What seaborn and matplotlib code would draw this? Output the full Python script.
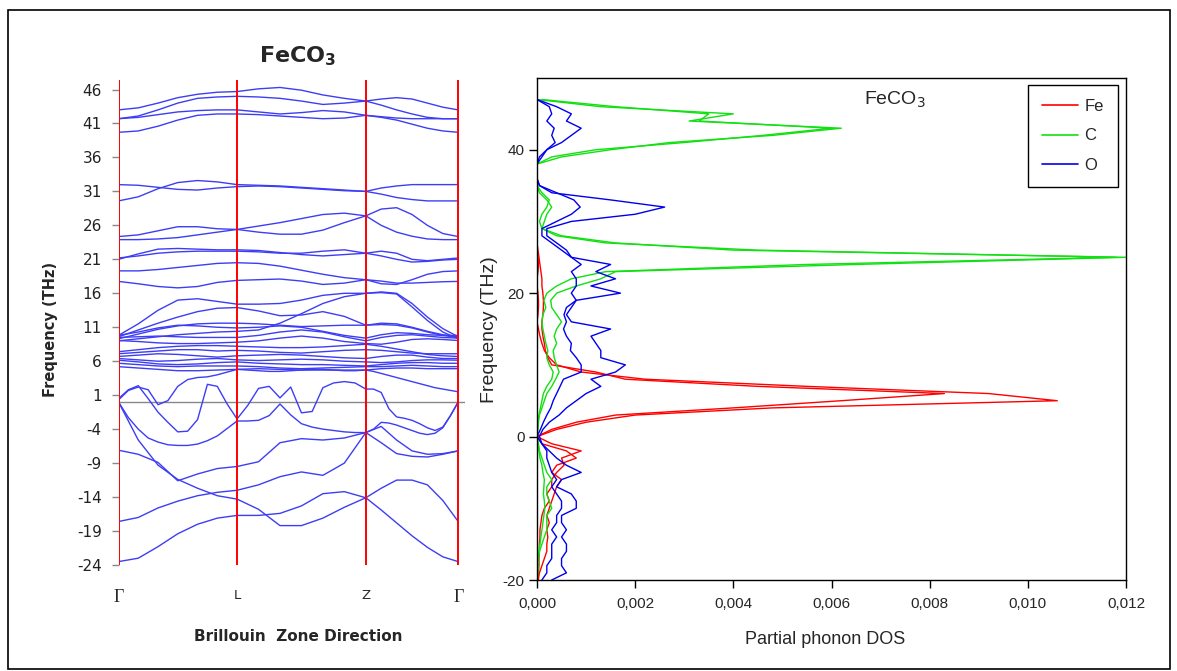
import numpy as np
import pandas as pd
import matplotlib
matplotlib.use('Agg')
import matplotlib.pyplot as plt
from matplotlib import font_manager
from matplotlib.lines import Line2D
from matplotlib.patches import Rectangle
from matplotlib.ticker import FuncFormatter
import seaborn as sns

# ---------------- data: band structure (left) ----------------
K_LABELS = ['Γ', 'L', 'Z', 'Γ']
K_TICKS = [0.0, 0.349, 0.728, 1.0]   # path distance of the high-symmetry points

# bands read on 7 points per segment (19 points along Γ-L-Z-Γ)
BANDS_COARSE = {
    'H1': [43.0, 43.3, 44.0, 44.8, 45.3, 45.6, 45.7, 46.1, 46.3, 45.9, 45.2, 44.7, 44.3, 44.6, 44.8, 44.6, 44.0, 43.4, 43.0],
    'H2': [41.7, 42.1, 43.0, 44.0, 44.7, 44.9, 45.0, 44.9, 44.7, 44.3, 43.8, 44.0, 44.3, 43.7, 43.0, 42.4, 41.9, 41.7, 41.7],
    'H3': [41.7, 41.9, 42.3, 42.7, 42.9, 43.0, 43.0, 42.7, 42.4, 42.6, 42.9, 42.7, 42.2, 42.0, 41.8, 41.7, 41.7, 41.7, 41.7],
    'H4': [39.7, 39.9, 40.6, 41.5, 42.2, 42.4, 42.4, 42.3, 42.1, 41.9, 41.7, 41.8, 42.2, 41.9, 41.5, 40.9, 40.3, 39.9, 39.7],
    'H5': [29.6, 30.2, 31.4, 32.3, 32.6, 32.4, 32.0, 31.9, 31.8, 31.6, 31.4, 31.2, 31.0, 31.5, 31.8, 32.0, 32.0, 32.0, 32.0],
    'H6': [32.0, 31.9, 31.6, 31.3, 31.2, 31.5, 31.7, 31.8, 31.7, 31.5, 31.3, 31.1, 31.0, 30.6, 30.1, 29.8, 29.6, 29.6, 29.6],
    'H7': [24.35, 24.6, 25.2, 25.8, 25.8, 25.5, 25.4, 25.9, 26.4, 27.0, 27.6, 27.8, 27.4, 28.4, 28.6, 27.6, 26.0, 24.8, 24.35],
    'H8': [23.9, 23.9, 24.0, 24.2, 24.6, 25.0, 25.4, 25.0, 24.7, 24.7, 25.3, 26.4, 27.4, 26.0, 25.0, 24.4, 24.0, 23.9, 23.9],
    'H9': [21.0, 21.8, 22.5, 22.6, 22.5, 22.4, 22.4, 22.3, 22.0, 21.7, 21.5, 21.7, 21.9, 22.2, 21.9, 21.0, 20.8, 21.0, 21.2],
    'H10': [21.2, 21.5, 21.9, 22.1, 22.2, 22.2, 22.2, 22.1, 21.9, 21.9, 22.2, 22.4, 21.9, 21.5, 21.0, 20.6, 20.7, 20.9, 21.0],
    'H11': [19.3, 19.3, 19.5, 19.8, 20.1, 20.4, 20.5, 20.4, 20.0, 19.4, 18.8, 18.3, 18.0, 17.4, 17.3, 18.0, 18.8, 19.2, 19.3],
    'H12': [17.75, 17.4, 17.0, 16.8, 17.0, 17.6, 17.9, 18.0, 18.1, 17.8, 17.3, 17.5, 18.0, 17.8, 17.5, 17.5, 17.6, 17.7, 17.75],
    'M1': [9.8, 11.5, 13.5, 15.0, 15.2, 14.8, 14.4, 14.4, 14.5, 15.0, 15.7, 16.0, 16.0, 16.2, 16.0, 14.5, 12.5, 10.8, 9.6],
    'M2': [9.6, 10.6, 11.6, 12.5, 13.3, 13.8, 13.9, 13.4, 12.7, 12.8, 13.3, 12.6, 11.3, 11.6, 11.5, 11.0, 10.4, 9.9, 9.6],
    'M3': [9.3, 10.0, 10.7, 11.2, 11.5, 11.6, 11.6, 11.5, 11.3, 11.1, 11.2, 11.3, 11.3, 11.4, 11.3, 10.9, 10.3, 9.8, 9.5],
    'M4': [9.0, 9.3, 9.6, 9.9, 10.1, 10.3, 10.4, 10.6, 11.6, 13.0, 14.5, 15.5, 16.0, 16.1, 15.9, 14.0, 12.0, 10.3, 9.3],
    'C1': [9.8, 10.3, 10.9, 11.3, 11.2, 11.0, 10.9, 11.0, 11.2, 11.0, 10.4, 9.8, 9.4, 9.9, 10.2, 10.1, 9.9, 9.8, 9.8],
    'C2': [9.5, 9.6, 9.7, 9.6, 9.5, 9.5, 9.5, 9.8, 10.3, 10.6, 10.3, 9.6, 9.0, 9.5, 9.8, 9.9, 9.7, 9.5, 9.4],
    'C3': [9.05, 8.9, 8.7, 8.6, 8.6, 8.7, 8.8, 9.0, 9.4, 9.7, 9.4, 8.9, 8.6, 8.5, 8.8, 9.2, 9.3, 9.2, 9.05],
    'C4': [7.4, 7.7, 8.0, 8.2, 8.3, 8.3, 8.2, 8.1, 8.0, 8.0, 8.1, 8.3, 8.5, 8.2, 7.8, 7.4, 7.0, 6.8, 6.7],
    'C5': [7.1, 7.3, 7.5, 7.7, 7.7, 7.5, 7.6, 7.5, 7.3, 7.2, 7.4, 7.6, 7.7, 7.6, 7.4, 7.2, 7.1, 7.1, 7.1],
    'C6': [6.7, 6.9, 7.1, 7.0, 6.8, 6.6, 6.8, 6.9, 7.0, 6.9, 6.7, 6.5, 6.4, 6.7, 6.9, 6.9, 6.6, 6.4, 6.4],
    'C7': [6.4, 6.2, 6.0, 6.1, 6.3, 6.4, 6.2, 6.1, 6.2, 6.3, 6.2, 6.0, 5.9, 5.8, 5.9, 6.1, 6.2, 6.2, 6.15],
    'C8': [6.15, 5.9, 5.6, 5.5, 5.6, 5.8, 5.9, 5.7, 5.6, 5.5, 5.5, 5.4, 5.3, 5.5, 5.7, 5.8, 5.8, 5.7, 5.7],
    'C9': [5.7, 5.5, 5.3, 5.2, 5.3, 5.3, 5.3, 5.2, 5.0, 4.9, 5.0, 5.1, 5.2, 5.2, 5.3, 5.4, 5.3, 5.2, 5.2],
    'C10': [5.2, 5.0, 4.8, 4.6, 4.6, 4.7, 4.8, 4.9, 4.8, 4.7, 4.7, 4.7, 4.7, 4.9, 5.0, 5.0, 4.9, 4.9, 4.9],
    'N1': [-23.5, -23.0, -21.3, -19.4, -18.0, -17.1, -16.7, -16.7, -16.4, -15.3, -13.5, -13.2, -14.1, -15.9, -17.8, -19.7, -21.4, -22.8, -23.5],
    'N2': [-17.6, -17.0, -15.6, -14.6, -13.8, -13.3, -13.0, -12.2, -11.0, -10.3, -10.8, -9.0, -4.5, -3.6, -5.6, -7.2, -7.7, -7.6, -7.2],
    'N3': [-7.1, -7.7, -8.9, -11.6, -10.6, -9.8, -9.5, -8.8, -6.0, -5.4, -5.6, -5.3, -4.5, -6.0, -7.6, -8.0, -8.1, -7.7, -7.2],
    'N4': [0.0, -5.6, -9.3, -11.4, -12.7, -13.8, -14.3, -15.8, -18.2, -18.2, -17.1, -15.5, -14.1, -12.7, -11.5, -11.5, -12.2, -14.5, -17.6],
}

# wavy low bands read on 13 points per segment (37 points)
BANDS_FINE = {
    'W1': [0.3, 1.7, 2.2, 1.8, -0.4, 0.2, 2.3, 3.3, 3.6, 3.7, 4.0, 4.4, 4.8,
           4.7, 4.6, 4.5, 4.5, 4.6, 4.7, 4.8, 4.8, 4.7, 4.6, 4.6, 4.7,
           4.5, 4.2, 3.9, 3.6, 3.3, 3.0, 2.7, 2.4, 2.1, 1.9, 1.7, 1.5],
    'W2': [0.5, 1.8, 2.4, 0.5, -1.5, -3.0, -4.4, -4.3, -2.6, 2.6, 2.3, -0.3, -2.5,
           -0.5, 2.0, 2.3, 0.6, 2.2, -1.6, -1.4, 2.1, 2.8, 3.0, 2.8, 1.9,
           1.9, 1.4, -1.0, -2.2, -2.4, -2.7, -3.2, -3.8, -4.2, -3.7, -2.0, 0.0],
    'W3': [0.0, -2.3, -4.0, -5.3, -5.9, -6.3, -6.4, -6.4, -6.2, -5.7, -5.0, -3.9, -2.8,
           -2.8, -2.7, -2.0, -0.3, -1.9, -3.2, -3.7, -4.0, -4.2, -4.4, -4.5, -4.5,
           -4.0, -3.0, -3.1, -3.4, -3.8, -4.2, -4.6, -4.8, -4.6, -3.8, -2.0, 0.0],
}

# ---------------- data: partial phonon DOS (right) ----------------
FREQ = [-20, -19, -18, -17, -16, -15, -14, -13, -12, -11, -10, -9, -8, -7, -6, -5, -4, -3, -2, -1,
        0, 1, 2, 3, 4, 5, 6, 7, 8, 9, 10, 11, 12, 13, 14, 15, 16, 17, 18, 19,
        20, 21, 22, 23, 24, 25, 26, 27, 28, 29, 30, 31, 32, 33, 34, 35, 36, 37, 38, 39,
        40, 41, 42, 43, 44, 45, 46, 47]

FE_1 = [0.00003, 0.00003, 0.00004, 0.00004, 0.00005, 0.00005, 0.00006, 0.00006, 0.00008, 0.0001,
        0.00015, 0.00025, 0.0002, 0.0003, 0.0003, 0.0004, 0.00055, 0.0005, 0.0009, 0.0003,
        0.0, 0.0004, 0.001, 0.002, 0.0048, 0.0106, 0.0092, 0.0055, 0.0022, 0.0009,
        0.0004, 0.00025, 0.00015, 0.0001, 0.00006, 0.00003, 0.0, 0.00002, 0.00003, 0.00003,
        0.00002, 0.0, 0.0, 0.00002, 0.00003, 0.00002, 0.0, 0.0, 0.0, 0.0,
        0.0, 0.0, 0.0, 0.0, 0.0, 0.0, 0.0, 0.0, 0.0, 0.0,
        0.0, 0.0, 0.0, 0.0, 0.0, 0.0, 0.0, 0.0]
FE_2 = [0.00002, 0.00005, 0.0001, 0.00015, 0.0002, 0.0002, 0.00022, 0.0002, 0.00025, 0.0002,
        0.00025, 0.0003, 0.00035, 0.0004, 0.0005, 0.0003, 0.0004, 0.0008, 0.0006, 0.0001,
        0.0, 0.0003, 0.0008, 0.0016, 0.0040, 0.0062, 0.0083, 0.0045, 0.0018, 0.0012,
        0.0003, 0.00022, 0.00017, 0.00015, 0.00012, 0.0001, 0.0001, 0.00012, 0.00013, 0.00013,
        0.00012, 0.0001, 0.0001, 0.00008, 0.00006, 0.00004, 0.00002, 0.0, 0.0, 0.0,
        0.0, 0.0, 0.0, 0.0, 0.0, 0.0, 0.0, 0.0, 0.0, 0.0,
        0.0, 0.0, 0.0, 0.0, 0.0, 0.0, 0.0, 0.0]
C_1 = [0.0, 0.00002, 0.00003, 0.00003, 0.00005, 0.0001, 0.00015, 0.0002, 0.0002, 0.0002,
       0.0003, 0.00025, 0.0002, 0.0002, 0.0003, 0.0002, 0.00015, 0.0001, 0.00005, 0.00003,
       0.0, 0.00002, 0.00003, 0.00005, 0.0001, 0.00015, 0.0002, 0.0003, 0.00038, 0.00045,
       0.0004, 0.00035, 0.00033, 0.0004, 0.00035, 0.0004, 0.0005, 0.0004, 0.0003, 0.00028,
       0.0004, 0.0008, 0.0013, 0.0016, 0.0065, 0.012, 0.0040, 0.0016, 0.0005, 0.0001,
       0.00005, 0.0001, 0.0002, 0.00025, 0.0001, 0.0, 0.0, 0.0, 0.0, 0.0005,
       0.0015, 0.0027, 0.0048, 0.0062, 0.0031, 0.0040, 0.0013, 0.0]
C_2 = [0.0, 0.00001, 0.00002, 0.00002, 0.00004, 0.00006, 0.00008, 0.0001, 0.00012, 0.00014,
       0.00016, 0.00015, 0.00013, 0.00014, 0.00015, 0.00012, 0.0001, 0.00006, 0.00004, 0.00002,
       0.0, 0.00001, 0.00002, 0.00004, 0.00007, 0.0001, 0.00013, 0.0002, 0.0003, 0.00033,
       0.00025, 0.0002, 0.00022, 0.00018, 0.00015, 0.00012, 0.0001, 0.00012, 0.00018, 0.00014,
       0.0002, 0.0004, 0.0007, 0.0014, 0.0055, 0.0118, 0.0045, 0.0014, 0.0004, 0.0001,
       0.00015, 0.0002, 0.0003, 0.0002, 0.00005, 0.0, 0.0, 0.0, 0.0, 0.0003,
       0.0012, 0.0030, 0.0046, 0.0060, 0.0033, 0.0035, 0.0016, 0.0001]
O_1 = [0.0003, 0.0006, 0.0005, 0.0005, 0.0006, 0.0006, 0.0005, 0.0006, 0.0005, 0.0005,
       0.0008, 0.0008, 0.0007, 0.0004, 0.0005, 0.0009, 0.0006, 0.0004, 0.00025, 0.0001,
       0.00005, 0.00012, 0.00025, 0.00045, 0.0006, 0.0008, 0.001, 0.0013, 0.0011, 0.0016,
       0.0018, 0.0013, 0.0013, 0.0012, 0.0011, 0.0015, 0.0007, 0.0006, 0.0007, 0.0008,
       0.0017, 0.0011, 0.0016, 0.0012, 0.0015, 0.0007, 0.0006, 0.0004, 0.0002, 0.0002,
       0.0007, 0.0020, 0.0026, 0.0015, 0.0003, 0.00005, 0.0, 0.0, 0.0, 0.00005,
       0.0002, 0.0005, 0.0007, 0.0009, 0.0006, 0.0007, 0.0004, 0.0]
O_2 = [0.0001, 0.0002, 0.0002, 0.0003, 0.0003, 0.0003, 0.0004, 0.0003, 0.0004, 0.0004,
       0.0005, 0.0005, 0.0004, 0.0003, 0.0004, 0.0003, 0.00025, 0.0002, 0.0002, 0.0001,
       0.0, 0.00007, 0.00013, 0.0002, 0.00028, 0.00033, 0.0004, 0.00047, 0.00054, 0.0009,
       0.0009, 0.0008, 0.00068, 0.0007, 0.0006, 0.00054, 0.0006, 0.00055, 0.0006, 0.0008,
       0.0007, 0.0008, 0.0008, 0.0007, 0.0009, 0.0007, 0.0005, 0.0003, 0.0001, 0.0001,
       0.0004, 0.0007, 0.00088, 0.00075, 0.0004, 0.00005, 0.0, 0.0, 0.0, 0.0001,
       0.0002, 0.00037, 0.0003, 0.00035, 0.0002, 0.0003, 0.00025, 0.0]

ELEMENTS = ['Fe', 'C', 'O']
PALETTE = {'Fe': '#ff0000', 'C': '#11e011', 'O': '#0000ee'}
BAND_COLOR = '#3d3df5'

# ---------------- build tables ----------------
def path_grid(n_per_seg):
    ks = []
    for i in range(len(K_TICKS) - 1):
        seg = np.linspace(K_TICKS[i], K_TICKS[i + 1], n_per_seg)
        ks.extend(seg if i == 0 else seg[1:])
    return np.array(ks)

rows = []
for bands, n in ((BANDS_COARSE, 7), (BANDS_FINE, 13)):
    kk = path_grid(n)
    for name, vals in bands.items():
        for k, v in zip(kk, vals):
            rows.append((name, k, v))
bands_df = pd.DataFrame(rows, columns=['band', 'k', 'freq'])

dos_rows = []
for el, curves in (('Fe', (FE_1, FE_2)), ('C', (C_1, C_2)), ('O', (O_1, O_2))):
    for j, curve in enumerate(curves):
        for f, d in zip(FREQ, curve):
            dos_rows.append((el, f'{el}{j}', f, d))
dos_df = pd.DataFrame(dos_rows, columns=['element', 'curve', 'freq', 'dos'])

# ---------------- figure ----------------
sns.set_style('white')
names = {f.name for f in font_manager.fontManager.ttflist}
NARROW = 'Liberation Sans Narrow' if 'Liberation Sans Narrow' in names else 'Liberation Sans'
plt.rcParams['font.family'] = ['DejaVu Sans']
plt.rcParams['axes.unicode_minus'] = False

W, H = 1177, 671
fig = plt.figure(figsize=(W / 100, H / 100), dpi=100)

def px_axes(l, t, r, b):
    return fig.add_axes([l / W, 1 - b / H, (r - l) / W, (b - t) / H])

# left: band structure
ax = px_axes(118.5, 80, 465, 565)
sns.lineplot(data=bands_df, x='k', y='freq', units='band', estimator=None, sort=False,
             color=BAND_COLOR, lw=1.0, ax=ax)
ax.axhline(0, color='#888888', lw=1.0, zorder=1)
for k in K_TICKS:
    ax.axvline(k, color='#ff0000', lw=1.4, zorder=3)
ax.set_xlim(0, 1.02)
ax.set_ylim(-24, 47.4)
for s in ax.spines.values():
    s.set_visible(False)
ax.set_yticks(list(range(46, -25, -5)))
ax.tick_params(axis='y', which='both', left=True, direction='out', length=5, width=1,
               color='#888888', pad=7, labelsize=11, labelcolor='#222222')
ax.set_xticks(K_TICKS)
ax.set_xticklabels(K_LABELS)
ax.tick_params(axis='x', length=0, pad=17)
for lab in ax.get_xticklabels():
    if lab.get_text() == 'Γ':
        lab.set_fontfamily('Liberation Serif')
        lab.set_fontsize(13)
    else:
        lab.set_fontsize(9.5)
ax.set_xlabel('Brillouin  Zone Direction', fontsize=11, fontweight='bold')
ax.xaxis.set_label_coords(0.518, -0.132)
ax.set_ylabel('Frequency (THz)', fontsize=10.5, fontweight='bold')
ax.yaxis.set_label_coords(-0.175, 0.485)
fig.text(298 / W, 1 - 56 / H, r'FeCO$_\mathbf{3}$', ha='center', va='center',
         fontsize=16, fontweight='bold')

# right: partial DOS
ax2 = px_axes(537, 78, 1126, 580)
sns.lineplot(data=dos_df, x='dos', y='freq', hue='element', units='curve', estimator=None,
             sort=False, palette=PALETTE, hue_order=ELEMENTS, lw=1.0, legend=False, ax=ax2)
ax2.set_xlim(0, 0.012)
ax2.set_ylim(-20, 50)
ax2.set_xticks([0, 0.002, 0.004, 0.006, 0.008, 0.010, 0.012])
ax2.set_yticks([-20, 0, 20, 40])
ax2.xaxis.set_major_formatter(FuncFormatter(lambda v, p: f'{v:.3f}'.replace('.', ',')))
ax2.yaxis.set_major_formatter(FuncFormatter(lambda v, p: f'{v:.0f}'))
for s in ax2.spines.values():
    s.set_visible(True)
    s.set_color('black')
    s.set_linewidth(1.0)
ax2.tick_params(axis='both', which='both', direction='out', length=6, width=1, color='black',
                bottom=True, left=True, labelsize=11)
ax2.tick_params(axis='x', pad=6)
ax2.tick_params(axis='y', pad=3)
for lab in ax2.get_xticklabels() + ax2.get_yticklabels():
    lab.set_fontfamily(NARROW)
ax2.set_xlabel('Partial phonon DOS', fontsize=13, fontfamily=NARROW)
ax2.xaxis.set_label_coords(0.49, -0.1016)
ax2.set_ylabel('Frequency (THz)', fontsize=14, fontfamily=NARROW)
ax2.yaxis.set_label_coords(-0.066, 0.498)
ax2.text(0.608, 0.956, r'FeCO$_3$', transform=ax2.transAxes, ha='center', va='center',
         fontsize=14, fontfamily=NARROW)

handles = [Line2D([], [], color=PALETTE[e], lw=1.2) for e in ELEMENTS]
leg = ax2.legend(handles, ELEMENTS, loc='upper right', bbox_to_anchor=(0.986, 0.986),
                 frameon=True, fancybox=False, edgecolor='black', framealpha=1,
                 prop={'family': NARROW, 'size': 12}, handlelength=2.2, labelspacing=0.85,
                 borderpad=0.85, handletextpad=0.35, borderaxespad=0)
leg.get_frame().set_linewidth(1.0)

# outer frame
fig.add_artist(Rectangle((8 / W, 2 / H), (1170 - 8) / W, (669 - 10) / H,
                         transform=fig.transFigure, fill=False, ec='black', lw=1.2))

fig.savefig('out.png', dpi=100, facecolor='white')
